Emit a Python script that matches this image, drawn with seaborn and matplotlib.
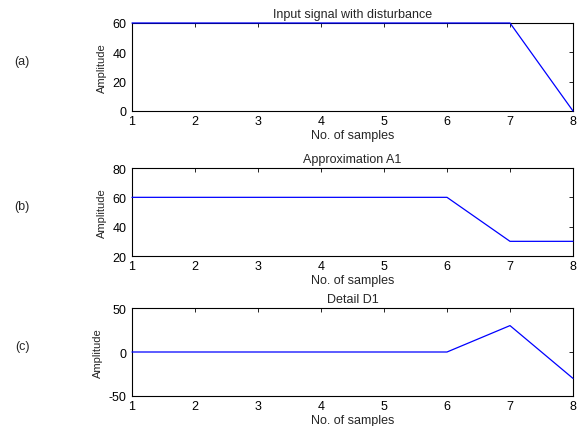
import numpy as np
import pandas as pd
import matplotlib
matplotlib.use("Agg")
import matplotlib.pyplot as plt
import seaborn as sns

# data
samples = [1, 2, 3, 4, 5, 6, 7, 8]
input_signal = [60, 60, 60, 60, 60, 60, 60, 0]
approx_a1 = [60, 60, 60, 60, 60, 60, 30, 30]
detail_d1 = [0, 0, 0, 0, 0, 0, 30, -30]

titles = ["Input signal with disturbance", "Approximation A1", "Detail D1"]
tags = ["(a)", "(b)", "(c)"]
ylims = [(0, 60), (20, 80), (-50, 50)]
yticks = [[0, 20, 40, 60], [20, 40, 60, 80], [-50, 0, 50]]

sns.set_style("white")
plt.rcParams['font.family'] = ['Liberation Sans', 'DejaVu Sans']
plt.rcParams['axes.unicode_minus'] = False

fig = plt.figure(figsize=(5.81, 4.27), dpi=100)
W, H = 581, 427
# axes boxes in pixels: left, top, right, bottom
boxes = [(132, 24, 573, 112), (132, 169, 573, 257), (132, 309, 573, 397)]
series = [input_signal, approx_a1, detail_d1]

for i in range(3):
    l, t, r, b = boxes[i]
    ax = fig.add_axes([l / W, 1 - b / H, (r - l) / W, (b - t) / H])
    df = pd.DataFrame({"x": samples, "y": series[i]})
    sns.lineplot(data=df, x="x", y="y", ax=ax, color="#0000ff", linewidth=0.9)
    for ln in ax.lines:
        ln.set_clip_on(False)
        ln.set_zorder(5)
    ax.set_xlim(1, 8)
    ax.set_ylim(*ylims[i])
    ax.set_xticks(samples)
    ax.set_yticks(yticks[i])
    ax.tick_params(direction="in", length=3, width=0.6, labelsize=9,
                   top=True, right=True, pad=3, colors="black")
    ax.tick_params(axis="y", pad=4)
    for s in ax.spines.values():
        s.set_linewidth(0.8)
        s.set_color("black")
    ax.set_title(titles[i], fontsize=9, pad=4)
    ax.set_xlabel("No. of samples", fontsize=9, labelpad=1)
    ax.set_ylabel("Amplitude", fontsize=8, labelpad=4)
    fig.text(22 / W, 1 - ((t + b) / 2 - 6) / H, tags[i], fontsize=9,
             ha="center", va="center")

fig.savefig("out.png", dpi=100)
